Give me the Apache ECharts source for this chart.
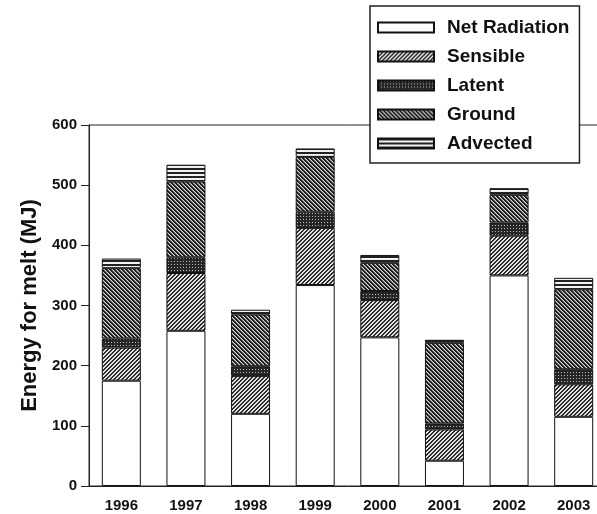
<!DOCTYPE html>
<html>
<head>
<meta charset="utf-8">
<script src="https://cdn.jsdelivr.net/npm/echarts@6/dist/echarts.min.js"></script>
<style>html,body{margin:0;padding:0;background:#fff;overflow:hidden}#c{width:612px;height:514px}</style>
</head>
<body>
<div id="c"></div>
<script>
const years = ['1996','1997','1998','1999','2000','2001','2002','2003'];
const netRadiation = [175, 258, 120, 334, 247, 42, 350, 115];
const sensible     = [55, 96, 63, 95, 62, 52, 66, 54];
const latent       = [15, 26, 16, 27, 15, 10, 22, 25];
const ground       = [117, 126, 86, 91, 47, 134, 46, 133];
const advected     = [16, 28, 8, 14, 13, 5, 11, 19];
const yTicks = [0, 100, 200, 300, 400, 500, 600];

function pattern(size, fn) {
  const c = document.createElement('canvas');
  c.width = size; c.height = size;
  const ctx = c.getContext('2d');
  for (let y = 0; y < size; y++) {
    for (let x = 0; x < size; x++) {
      ctx.fillStyle = fn(x, y);
      ctx.fillRect(x, y, 1, 1);
    }
  }
  return { image: c, repeat: 'repeat' };
}
const sensPat = pattern(4, (x, y) => ((x + y) % 4 < 2) ? '#2a2a2a' : '#e4e4e4');
const groundPat = pattern(4, (x, y) => ((x - y + 8) % 4 < 2) ? '#1e1e1e' : ((x - y + 8) % 4 === 2 ? '#777' : '#d8d8d8'));
const latentPat = pattern(3, (x, y) => (x === 0 && y === 0) ? '#bbb' : '#262626');
const advPat = pattern(4, (x, y) => (y % 4 < 2) ? '#222' : '#f2f2f2');

const font = 'Liberation Sans, Arial, sans-serif';
const chart = echarts.init(document.getElementById('c'), null, { renderer: 'canvas' });
function mk(name, data, color) {
  return {
    name, type: 'bar', stack: 'total', data, barWidth: 39,
    itemStyle: { color, borderColor: '#111', borderWidth: 1 },
    emphasis: { disabled: true }
  };
}
chart.setOption({
  animation: false,
  backgroundColor: '#fff',
  grid: { left: 89, right: 6, top: 125, bottom: 28, show: true, borderColor: '#222', borderWidth: 1, containLabel: false },
  legend: {
    orient: 'vertical', left: 370, top: 6,
    padding: [12, 10, 10, 7],
    itemWidth: 56, itemHeight: 10, itemGap: 10,
    backgroundColor: '#fff', borderColor: '#222', borderWidth: 1.5,
    icon: 'rect',
    textStyle: { fontFamily: font, fontWeight: 'bold', fontSize: 19, color: '#111', padding: [0, 0, 0, 8] },
    data: ['Net Radiation', 'Sensible', 'Latent', 'Ground', 'Advected']
  },
  xAxis: {
    type: 'category', data: years,
    axisLine: { lineStyle: { color: '#222', width: 1 } },
    axisTick: { alignWithLabel: true, length: 6, lineStyle: { color: '#222' } },
    axisLabel: { fontFamily: font, fontWeight: 'bold', fontSize: 15, color: '#111', margin: 12 }
  },
  yAxis: {
    type: 'value', min: yTicks[0], max: yTicks[yTicks.length - 1], interval: 100,
    name: 'Energy for melt (MJ)', nameLocation: 'middle', nameGap: 48,
    nameTextStyle: { fontFamily: font, fontWeight: 'bold', fontSize: 22, color: '#111' },
    axisLine: { show: true, lineStyle: { color: '#222', width: 1 } },
    axisTick: { show: true, length: 8, lineStyle: { color: '#222' } },
    splitLine: { show: false },
    axisLabel: { fontFamily: font, fontWeight: 'bold', fontSize: 15, color: '#111', margin: 12 }
  },
  series: [
    mk('Net Radiation', netRadiation, '#ffffff'),
    mk('Sensible', sensible, sensPat),
    mk('Latent', latent, latentPat),
    mk('Ground', ground, groundPat),
    mk('Advected', advected, advPat)
  ]
});
</script>
</body>
</html>
